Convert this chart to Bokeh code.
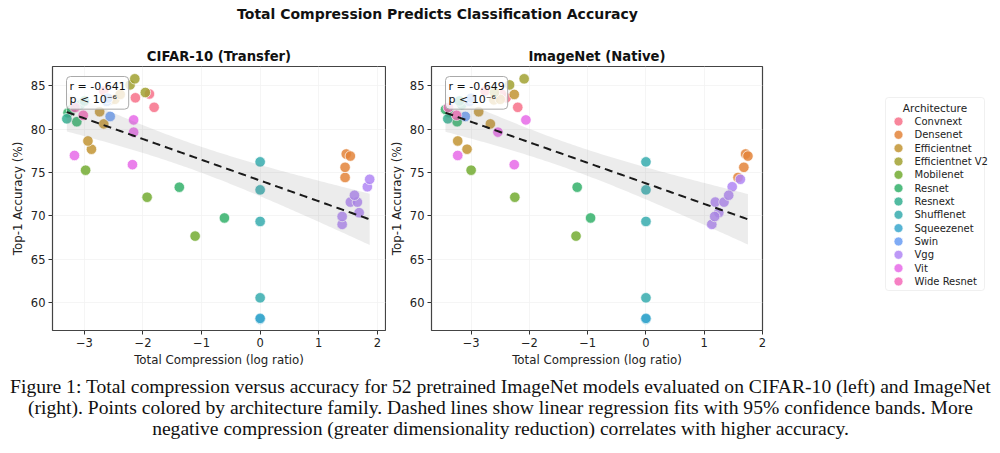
import numpy as np
from bokeh.plotting import figure
from bokeh.models import ColumnDataSource, Range1d, Label, BoxAnnotation, FixedTicker, CustomJSTickFormatter
from bokeh.layouts import column, row
from bokeh.embed import file_html
from bokeh.resources import INLINE
from bokeh.core.properties import value

# Architecture families and their colours (husl-style palette)
families = ["Convnext", "Densenet", "Efficientnet", "Efficientnet V2", "Mobilenet", "Resnet",
            "Resnext", "Shufflenet", "Squeezenet", "Swin", "Vgg", "Vit", "Wide Resnet"]
family_colors = ["#f77189", "#e3843a", "#c29432", "#a1a131", "#73ac31", "#32b06a",
                 "#34af90", "#36abae", "#39a7cd", "#689cf3", "#b086f4", "#e66ae8", "#f56ab8"]

# One entry per pretrained model
model_family = (["Convnext"] * 4 + ["Densenet"] * 4 + ["Efficientnet"] * 7 + ["Efficientnet V2"] * 3
                + ["Mobilenet"] * 3 + ["Resnet"] * 5 + ["Resnext"] * 3 + ["Shufflenet"] * 4
                + ["Squeezenet"] * 2 + ["Swin"] * 3 + ["Vgg"] * 8 + ["Vit"] * 4 + ["Wide Resnet"] * 2)
top1_accuracy = [82.52, 83.62, 84.06, 84.41,
                 74.43, 77.14, 75.60, 76.90,
                 77.69, 78.64, 80.61, 82.01, 83.38, 83.44, 84.01,
                 84.23, 85.11, 85.81,
                 72.15, 75.27, 67.67,
                 69.76, 73.31, 80.86, 81.89, 82.28,
                 81.20, 82.83, 83.25,
                 60.55, 69.36, 73.00, 76.23,
                 58.09, 58.18,
                 81.47, 83.20, 83.58,
                 69.02, 70.37, 69.93, 71.59, 71.59, 73.36, 72.38, 74.22,
                 81.07, 75.91, 79.66, 76.97,
                 81.60, 82.51]
compression_cifar = [-1.81, -2.13, -1.89, -2.67,
                     1.45, 1.47, 1.45, 1.54,
                     -2.88, -2.94, -2.67, -2.74, -2.55, -2.48, -2.39,
                     -1.96, -2.22, -2.14,
                     -1.93, -2.98, -1.11,
                     -0.61, -1.38, -3.13, -3.28, -3.22,
                     -3.30, -3.07, -3.00,
                     0.0, 0.0, 0.0, 0.0,
                     0.0, 0.0,
                     -2.56, -2.62, -2.60,
                     1.40, 1.69, 1.40, 1.54, 1.66, 1.83, 1.61, 1.87,
                     -2.16, -2.18, -2.16, -3.17,
                     -3.02, -3.16]
compression_imagenet = [-2.20, -2.40, -2.48, -2.76,
                        1.58, 1.71, 1.68, 1.75,
                        -3.07, -3.23, -2.67, -2.87, -2.61, -2.50, -2.26,
                        -2.60, -2.34, -2.09,
                        -2.25, -3.00, -1.20,
                        -0.95, -1.18, -3.24, -3.38, -3.44,
                        -3.40, -3.16, -3.20,
                        0.0, 0.0, 0.0, 0.0,
                        0.0, 0.0,
                        -3.10, -3.03, -3.00,
                        1.13, 1.25, 1.18, 1.19, 1.34, 1.48, 1.42, 1.62,
                        -2.06, -2.26, -2.54, -3.23,
                        -3.25, -3.39]

panel_titles = ["CIFAR-10 (Transfer)", "ImageNet (Native)"]
stat_labels = ["r = -0.641\np < 10\u207b\u2076", "r = -0.649\np < 10\u207b\u2076"]
x_ticks = [-3, -2, -1, 0, 1, 2]
y_ticks = [60, 65, 70, 75, 80, 85]
suptitle = "Total Compression Predicts Classification Accuracy"
caption_lines = [
    "Figure 1: Total compression versus accuracy for 52 pretrained ImageNet models evaluated on CIFAR-10 (left) and ImageNet",
    "(right). Points colored by architecture family. Dashed lines show linear regression fits with 95% confidence bands. More",
    "negative compression (greater dimensionality reduction) correlates with higher accuracy.",
]

FONT = "DejaVu Sans"
color_of = dict(zip(families, family_colors))
point_colors = [color_of[f] for f in model_family]


def regression_band(x, y, n=120, t_crit=2.009):
    x = np.asarray(x, float)
    y = np.asarray(y, float)
    slope, intercept = np.polyfit(x, y, 1)
    xs = np.linspace(x.min(), x.max(), n)
    fit = intercept + slope * xs
    resid = y - (intercept + slope * x)
    s = np.sqrt(resid @ resid / (len(x) - 2))
    sxx = ((x - x.mean()) ** 2).sum()
    se = s * np.sqrt(1.0 / len(x) + (xs - x.mean()) ** 2 / sxx)
    return xs, fit, fit - t_crit * se, fit + t_crit * se


minus_fmt = CustomJSTickFormatter(code="return (tick < 0 ? '\u2212' : '') + Math.abs(tick);")


def make_panel(title, comp, stat_text, x_lo, x_hi, border_left, frame_w, border_right):
    p = figure(frame_width=frame_w, frame_height=264,
               x_range=Range1d(x_lo, x_hi), y_range=Range1d(56.78, 87.23),
               min_border_left=border_left, min_border_right=border_right,
               min_border_top=36, min_border_bottom=40,
               output_backend="svg", toolbar_location=None, title=title)
    p.title.align = "center"
    p.title.text_font = FONT
    p.title.text_font_size = "13.2px"
    p.title.text_font_style = "bold"
    p.title.text_color = "#111111"
    p.title.standoff = 5

    p.outline_line_color = "#444444"
    p.outline_line_width = 1.2
    p.background_fill_color = "white"
    p.border_fill_color = "white"
    for g in (p.xgrid, p.ygrid):
        g.grid_line_color = "#f2f2f2"
        g.grid_line_width = 0.8

    for ax in (p.xaxis, p.yaxis):
        ax.axis_line_color = None
        ax.major_tick_line_color = "#333333"
        ax.major_tick_out = 4
        ax.major_tick_in = 0
        ax.minor_tick_line_color = None
        ax.major_label_text_font = FONT
        ax.major_label_text_font_size = "11.5px"
        ax.major_label_text_color = "#222222"
        ax.axis_label_text_font = FONT
        ax.axis_label_text_font_size = "11.8px"
        ax.axis_label_text_font_style = "normal"
        ax.axis_label_text_color = "#222222"
        ax.major_label_standoff = 3
        ax.axis_label_standoff = 3
    p.xaxis.ticker = FixedTicker(ticks=x_ticks)
    p.yaxis.ticker = FixedTicker(ticks=y_ticks)
    p.xaxis.formatter = minus_fmt
    p.xaxis.axis_label = "Total Compression (log ratio)"
    p.yaxis.axis_label = "Top-1 Accuracy (%)"

    src = ColumnDataSource(dict(x=comp, y=top1_accuracy, color=point_colors))
    p.scatter("x", "y", source=src, size=10.5, fill_color="color", fill_alpha=0.85,
              line_color="white", line_width=0.7)

    xs, fit, lo, hi = regression_band(comp, top1_accuracy)
    p.varea(x=xs, y1=lo, y2=hi, fill_color="#808080", fill_alpha=0.15)
    p.line(xs, fit, line_color="#1a1a1a", line_width=2, line_dash="8 5")

    # statistics box anchored just inside the top-left corner of the frame
    ppu_x = frame_w / (x_hi - x_lo)
    ppu_y = 264 / (87.23 - 56.78)
    p.add_layout(Label(x=x_lo + 14 / ppu_x, y=87.23 - 10 / ppu_y, text=stat_text,
                       anchor="top_left", text_font=FONT, text_font_size="11px",
                       text_color="#111111", text_line_height=1.05,
                       padding=3, border_radius=4,
                       background_fill_color="white", background_fill_alpha=0.8,
                       border_line_color="#aaaaaa", border_line_width=1))
    return p


left = make_panel(panel_titles[0], compression_cifar, stat_labels[0], -3.545, 2.14, 52, 333, 1)
right = make_panel(panel_titles[1], compression_imagenet, stat_labels[1], -3.68, 2.0, 42, 331, 21)

# legend panel; its frame lines up with the panels, so the ranges are page pixels 66..330
leg = figure(frame_width=220, frame_height=264, x_range=Range1d(780, 1000), y_range=Range1d(330, 66),
             output_backend="svg", toolbar_location=None,
             min_border_left=0, min_border_right=0, min_border_top=36, min_border_bottom=40,
             x_axis_location=None, y_axis_location=None)
leg.grid.visible = False
leg.outline_line_color = None
leg.add_layout(BoxAnnotation(left=882, right=981, top=97, bottom=290, fill_color="white",
                             fill_alpha=1.0, line_color="#cccccc", line_width=1, border_radius=3,
                             level="underlay"))
item_y = [121 + 13.33 * i for i in range(len(families))]
leg.text(x=[931.5], y=[107], text=["Architecture"], text_font=value(FONT), text_font_size="10.5px",
         text_align="center", text_baseline="middle", text_color="#222222")
leg.scatter(x=[895] * len(families), y=item_y, size=9, fill_color=family_colors, fill_alpha=0.85,
            line_color="white", line_width=0.7)
leg.text(x=[911] * len(families), y=item_y, text=families, text_font=value(FONT),
         text_font_size="10px", text_baseline="middle", text_color="#222222")

# overall title
top = figure(width=1000, height=30, x_range=Range1d(0, 1000), y_range=Range1d(30, 0),
             output_backend="svg", toolbar_location=None, min_border=0,
             x_axis_location=None, y_axis_location=None)
top.grid.visible = False
top.outline_line_color = None
top.text(x=[437], y=[13], text=[suptitle], text_font=value(FONT), text_font_size="14px",
         text_font_style="bold", text_align="center", text_baseline="middle", text_color="#111111")

# figure caption
cap = figure(width=1000, height=83, x_range=Range1d(0, 1000), y_range=Range1d(83, 0),
             output_backend="svg", toolbar_location=None, min_border=0,
             x_axis_location=None, y_axis_location=None)
cap.grid.visible = False
cap.outline_line_color = None
cap.text(x=[500] * 3, y=[16, 37, 58], text=caption_lines, text_font=value("Liberation Serif"),
         text_font_size="19.6px", text_align="center", text_baseline="middle", text_color="#111111")

layout = column(top, row(left, right, leg), cap)
open("out.html", "w").write(file_html(layout, INLINE))
